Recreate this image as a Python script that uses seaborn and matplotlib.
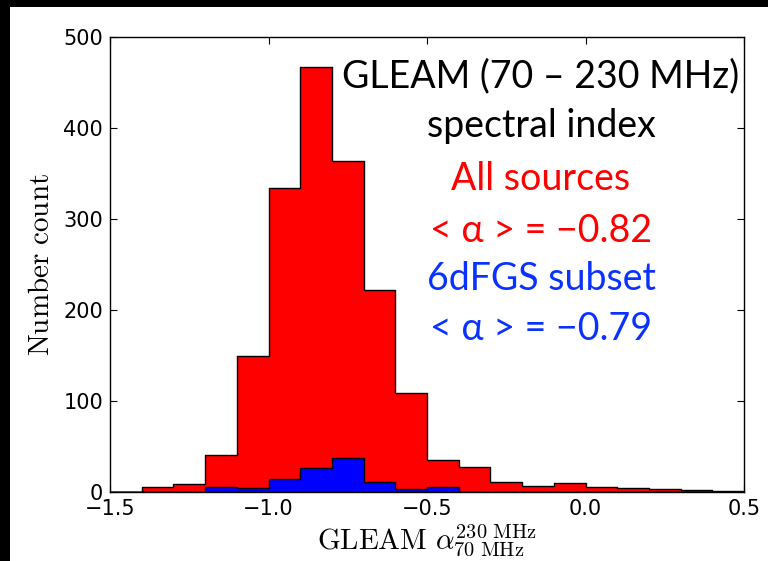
import matplotlib
matplotlib.use("Agg")
import matplotlib.pyplot as plt
import numpy as np
import seaborn as sns
from matplotlib.patches import Rectangle

# Spectral-index histogram, bins of width 0.1 from -1.5 to 0.5
bin_edges = [-1.5, -1.4, -1.3, -1.2, -1.1, -1.0, -0.9, -0.8, -0.7, -0.6, -0.5,
             -0.4, -0.3, -0.2, -0.1, 0.0, 0.1, 0.2, 0.3, 0.4, 0.5]
all_counts = [0, 5, 9, 41, 149, 334, 467, 364, 222, 109,
              35, 27, 11, 7, 10, 5, 4, 3, 2, 1]
sixdf_counts = [0, 0, 0, 6, 4, 14, 26, 37, 11, 3,
                5, 0, 0, 0, 0, 0, 0, 0, 0, 0]

x_ticks = [-1.5, -1.0, -0.5, 0.0, 0.5]
y_ticks = [0, 100, 200, 300, 400, 500]

centers = [(a + b) / 2 for a, b in zip(bin_edges[:-1], bin_edges[1:])]

sns.set_theme(style="white")
plt.rcParams["mathtext.fontset"] = "cm"
plt.rcParams["font.family"] = ["DejaVu Sans"]
for key in ("text.color", "axes.labelcolor", "xtick.color", "ytick.color"):
    plt.rcParams[key] = "black"

fig = plt.figure(figsize=(7.68, 5.61), dpi=100)
fig.patch.set_facecolor("white")
ax = fig.add_axes([110 / 768, 1 - 492 / 561, (744 - 110) / 768, (492 - 37) / 561])

sns.histplot(x=centers, weights=all_counts, bins=bin_edges, element="step",
             fill=True, color="#ff0000", alpha=1, edgecolor="black",
             linewidth=1.0, ax=ax)
sns.histplot(x=centers, weights=sixdf_counts, bins=bin_edges, element="step",
             fill=True, color="#0000ff", alpha=1, edgecolor="black",
             linewidth=1.0, ax=ax)

ax.set_xlim(-1.5, 0.5)
ax.set_ylim(0, 500)
ax.set_xticks(x_ticks)
ax.set_yticks(y_ticks)
ax.set_xticklabels(["\u22121.5", "\u22121.0", "\u22120.5", "0.0", "0.5"])
ax.tick_params(axis="both", which="major", direction="in", length=5, width=0.8,
               labelsize=15, top=True, right=True, bottom=True, left=True,
               colors="black", pad=5)
for s in ax.spines.values():
    s.set_color("black")
    s.set_linewidth(1.0)
    s.set_visible(True)

ax.set_ylabel(r"$\mathrm{Number\ count}$", fontsize=21, labelpad=6, color="black")
ax.set_xlabel(r"$\mathrm{GLEAM}\ \alpha^{230\ \mathrm{MHz}}_{70\ \mathrm{MHz}}$",
              fontsize=21, labelpad=2, color="black")

# Annotation block in the upper right
lines = [
    ("GLEAM (70 \u2013 230 MHz)", "black", 87),
    ("spectral index", "black", 137),
    ("All sources", "#ff0000", 190),
    ("< \u03b1 > = \u22120.82", "#ff0000", 242),
    ("6dFGS subset", "#0a32ff", 290),
    ("< \u03b1 > = \u22120.79", "#0a32ff", 340),
]
for text, col, base in lines:
    fig.text(541 / 768, 1 - base / 561, text, color=col, fontsize=27,
             family=["Lato", "DejaVu Sans"], ha="center", va="baseline")

# Dark frame strips along the top and left edges
fig.patches.append(Rectangle((0, 1 - 7 / 561), 1, 7 / 561, transform=fig.transFigure,
                             facecolor="black", edgecolor="none", zorder=10))
fig.patches.append(Rectangle((0, 0), 10 / 768, 1, transform=fig.transFigure,
                             facecolor="black", edgecolor="none", zorder=10))

fig.savefig("out.png", dpi=100, facecolor=fig.get_facecolor())
